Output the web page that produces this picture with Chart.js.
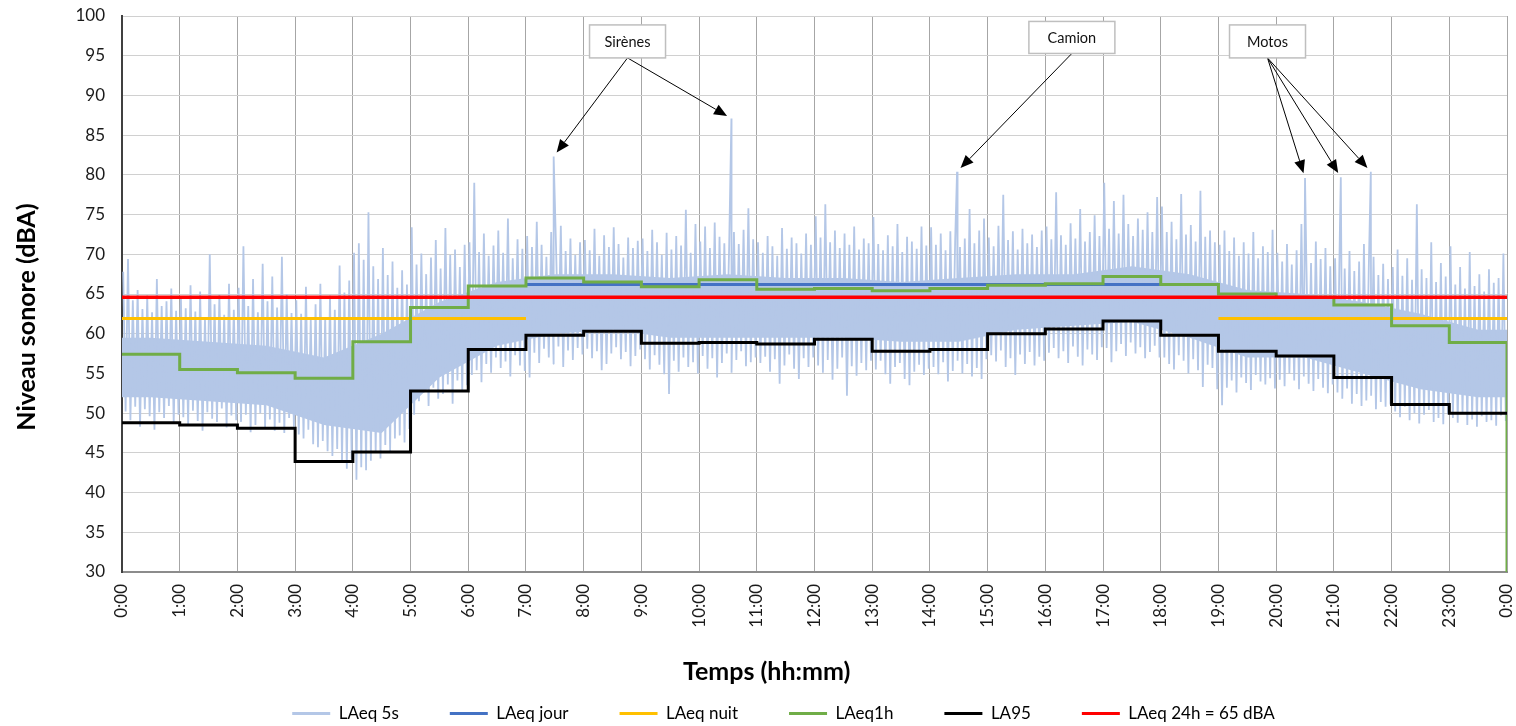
<!DOCTYPE html>
<html lang="fr">
<head>
<meta charset="utf-8">
<title>Niveau sonore sur 24h</title>
<script src="https://cdn.jsdelivr.net/npm/chart.js@4.4.1/dist/chart.umd.min.js"></script>
<style>
    html, body { margin: 0; padding: 0; background: #fff; }
    canvas { display: block; }
</style>
</head>
<body>
<canvas id="noiseChart" width="1516" height="726"></canvas>
<script>
// x axis tick labels, one per hour
const hourLabels = ['0:00', '1:00', '2:00', '3:00', '4:00', '5:00', '6:00', '7:00', '8:00', '9:00', '10:00', '11:00',
    '12:00', '13:00', '14:00', '15:00', '16:00', '17:00', '18:00', '19:00', '20:00', '21:00', '22:00', '23:00', '0:00'];

// LAeq 5s : highest and lowest reading in each 5 minute slot (one row per hour)
const peak5s = [
    67.8, 69.4, 64.2, 65.5, 63.1, 64.8, 62.7, 66.9, 63.5, 64.1, 65.7, 62.9,
    64.5, 63.2, 66.1, 62.8, 65.3, 61.9, 70.0, 63.7, 64.9, 62.4, 66.3, 63.0,
    65.8, 71.0, 63.5, 66.9, 62.7, 68.8, 64.1, 67.2, 63.3, 69.7, 65.0, 62.6,
    64.2, 62.5, 65.9, 61.8, 63.7, 66.3, 62.1, 64.8, 63.0, 68.6, 65.2, 66.7,
    70.2, 71.4, 69.3, 75.3, 68.5, 66.9, 70.8, 67.4, 69.1, 65.8, 68.0, 66.2,
    73.4, 68.7, 70.1, 67.5, 69.6, 71.8, 68.2, 73.3, 69.9, 70.6, 68.4, 71.2,
    71.5, 79.0, 70.3, 72.6, 69.8, 71.1, 73.0, 70.2, 74.5, 69.5, 71.9, 70.7,
    72.3, 70.9, 74.1, 71.2, 69.7, 72.8, 71.0, 73.6, 70.4, 72.0, 69.9, 71.5,
    71.8, 70.5, 73.2, 69.8, 72.4, 70.9, 73.4, 71.3, 69.6, 72.1, 70.8, 71.7,
    72.0, 70.4, 73.1, 71.5, 69.9, 72.7, 70.6, 72.3, 71.1, 75.6, 70.2, 73.8,
    71.6, 73.5, 70.8, 74.0, 72.2, 71.4, 70.9, 72.8, 71.3, 73.1, 75.8, 71.9,
    71.5, 70.2, 72.3, 71.0, 69.8, 73.3, 70.7, 72.1, 71.4, 70.1, 72.6, 71.2,
    74.8, 72.1, 76.3, 71.5, 73.0, 70.8, 72.6, 71.2, 73.5, 70.6, 72.0, 71.4,
    74.7, 71.3, 70.5, 72.4, 71.0, 73.8, 70.3, 72.2, 71.6, 70.7, 73.5, 71.1,
    73.4, 71.2, 72.6, 70.5, 72.9, 71.8, 70.9, 72.0, 75.7, 71.4, 73.0, 74.5,
    72.1, 71.0, 73.6, 77.5, 71.8, 72.9, 70.6, 73.2, 71.4, 72.5, 70.9, 73.0,
    73.5, 71.9, 77.8, 72.4, 71.2, 73.9, 72.0, 75.7, 71.6, 72.8, 74.9, 72.3,
    79.0, 73.2, 76.7, 72.6, 77.5, 73.8, 72.3, 74.5, 73.1, 75.3, 72.8, 77.2,
    76.0, 72.8, 74.1, 71.9, 77.6, 72.5, 73.7, 71.6, 78.0, 72.2, 73.0, 71.5,
    71.2, 73.0, 70.4, 72.1, 69.8, 71.5, 70.1, 72.8, 69.5, 71.0, 70.3, 73.1,
    70.2, 69.1, 71.3, 68.7, 70.5, 73.8, 70.0, 68.9, 71.6, 69.4, 70.8, 68.5,
    69.5, 73.1, 68.2, 70.4, 67.9, 69.1, 71.3, 68.0, 69.7, 67.4, 68.8, 66.9,
    68.4, 70.6, 67.3, 69.5, 66.8, 76.3, 68.1, 67.0, 71.5, 66.5, 68.9, 67.2,
    71.0, 66.2, 68.4, 65.7, 70.3, 66.0, 67.5, 65.3, 68.1, 66.4, 67.0, 70.1
];
const dip5s = [
    50.2, 49.1, 50.8, 48.3, 50.5, 49.6, 47.9, 50.1, 49.4, 50.9, 48.7, 49.8,
    49.5, 48.6, 50.3, 49.0, 47.8, 50.1, 49.3, 48.9, 50.6, 48.2, 49.7, 49.1,
    48.9, 49.8, 47.6, 48.5, 50.0, 48.1, 49.2, 47.8, 48.8, 47.5, 49.4, 48.3,
    47.3, 46.8, 47.9, 46.1, 45.7, 46.5, 45.2, 44.6, 45.5, 43.8, 43.0, 44.2,
    41.6, 43.2, 42.8, 44.0, 45.1, 44.3, 46.0, 45.2, 46.8, 47.2, 46.3, 48.0,
    49.8, 51.5, 52.6, 50.9, 53.2, 51.8, 52.4, 53.6, 51.2, 54.1, 52.8, 53.5,
    54.8, 55.4, 53.9, 56.2, 55.1, 57.0, 55.7, 56.5, 54.6, 57.3, 56.0, 55.3,
    54.5, 57.6, 56.3, 58.1, 57.0, 56.2, 58.4, 55.8, 57.9, 56.7, 58.2, 57.4,
    58.1, 56.9, 57.8, 55.4, 56.2, 57.5, 58.3, 56.8, 57.7, 55.9, 57.2, 58.0,
    56.8, 55.5, 57.3, 56.1, 54.9, 52.4, 56.6, 55.2, 57.0, 55.8, 56.4, 55.0,
    57.2, 55.6, 56.9, 54.5, 56.3, 57.5, 55.1, 56.7, 57.8, 55.9, 56.4, 57.0,
    56.3, 57.1, 55.2, 56.8, 53.7, 56.0, 57.4, 55.6, 54.3, 56.9, 55.8, 57.0,
    56.0, 55.1, 56.7, 54.2, 55.6, 57.0, 52.2, 55.9, 54.7, 56.3, 55.4, 56.6,
    55.5, 56.6, 54.9, 53.7, 55.8, 56.3, 54.3, 53.5, 55.2, 56.1, 54.8, 55.6,
    55.8, 54.9, 56.4, 54.0, 55.3, 56.6, 55.0, 56.2, 54.6, 55.7, 54.3, 56.8,
    57.3, 56.5, 57.9, 55.8, 56.9, 54.8, 57.4, 56.2, 57.7, 56.0, 57.1, 56.6,
    57.6, 58.2, 56.9, 57.8, 56.3, 58.4, 57.1, 56.0, 58.0, 57.4, 56.7, 58.3,
    58.2, 56.4, 57.8, 58.7, 57.2, 58.9, 57.5, 58.3, 56.9, 57.7, 58.5, 57.0,
    57.0, 56.2, 55.5, 57.3, 56.6, 55.0, 56.8, 55.4, 53.3, 56.1, 55.7, 53.0,
    51.0, 53.2, 54.1, 52.6, 54.5, 53.8, 52.9, 54.8, 54.0, 53.6, 54.4, 53.1,
    54.2, 53.4, 55.0, 54.1, 53.0, 54.6, 53.7, 52.8, 54.3, 53.2, 52.5, 53.6,
    52.6, 51.8, 53.1, 51.2, 52.4, 50.9, 51.6, 52.2, 50.5, 51.4, 50.8, 51.1,
    50.2, 49.5, 50.8, 49.1, 50.0, 48.7, 49.8, 50.4, 48.9, 49.4, 48.6, 49.9,
    49.4, 48.8, 49.9, 48.5, 49.2, 48.3, 49.6, 48.9, 49.1, 48.4, 49.7, 49.0
];

// dense part of the LAeq 5s cloud, per hour (top and bottom edge)
const coreTop = [59.5, 59.0, 58.5, 57.0, 60.0, 64.0, 66.5, 67.5, 67.5, 67.0, 67.5, 67.0,
    67.0, 66.5, 67.0, 67.5, 67.5, 68.5, 67.5, 65.5, 65.0, 64.0, 62.5, 60.5];
const coreBottom = [52.0, 51.5, 51.0, 48.5, 47.5, 54.5, 58.5, 60.0, 60.5, 59.5, 59.5, 59.5,
    59.5, 59.0, 59.0, 60.5, 61.0, 61.5, 59.5, 57.0, 57.0, 55.0, 53.0, 52.0];

// single loud events (hour of day, dBA): sirens, truck, motorbikes
const eventHours = [7.48, 10.56, 14.47, 20.50, 21.12, 21.64];
const eventLevels = [82.3, 87.1, 80.4, 79.6, 79.7, 80.4];

// hourly values
const laeq1h = [57.4, 55.5, 55.1, 54.4, 59.0, 63.3, 66.0, 67.0, 66.5, 65.9, 66.8, 65.6,
    65.7, 65.4, 65.7, 66.1, 66.3, 67.2, 66.2, 65.0, 64.6, 63.6, 61.0, 58.9];
const la95 = [48.8, 48.5, 48.1, 43.9, 45.1, 52.8, 58.0, 59.8, 60.3, 58.8, 58.9, 58.7,
    59.3, 57.8, 58.0, 60.0, 60.6, 61.6, 59.8, 57.8, 57.2, 54.5, 51.1, 50.0];

// period levels
const jourPeriod = [7, 18];
const laeqJour = 66.2;
const nuitPeriods = [[0, 7], [19, 24]];
const laeqNuit = 61.9;
const laeq24h = 64.6;

const callouts = [
    { text: 'Sirènes', hour: 8.76, level: 96.8, w: 76, h: 33, events: [0, 1] },
    { text: 'Camion', hour: 16.46, level: 97.3, w: 86, h: 32, events: [2] },
    { text: 'Motos', hour: 19.85, level: 96.8, w: 76, h: 33, events: [3, 4, 5] }
];

const cloudColor = '#b4c7e7';

function build5s() {
    const pts = [];
    for (let i = 0; i < peak5s.length; i++) {
        const h = Math.floor(i / 12), k = i % 12;
        pts.push({ x: h + (k + 0.25) / 12, y: peak5s[i] });
        pts.push({ x: h + (k + 0.75) / 12, y: dip5s[i] });
    }
    eventHours.forEach((t, i) => pts.push({ x: t, y: eventLevels[i] }));
    return pts.sort((a, b) => a.x - b.x);
}

function hourMidpoints(vals) {
    const pts = [{ x: 0, y: vals[0] }];
    vals.forEach((v, i) => pts.push({ x: i + 0.5, y: v }));
    pts.push({ x: vals.length, y: vals[vals.length - 1] });
    return pts;
}

function hourSteps(vals) {
    const pts = vals.map((v, i) => ({ x: i, y: v }));
    pts.push({ x: vals.length, y: vals[vals.length - 1] });
    return pts;
}

function periodLine(periods, level) {
    const pts = [];
    periods.forEach((p, i) => {
        if (i > 0) pts.push({ x: (periods[i - 1][1] + p[0]) / 2, y: null });
        pts.push({ x: p[0], y: level }, { x: p[1], y: level });
    });
    return pts;
}

// text boxes with arrows, and the two axis titles
const calloutPlugin = {
    id: 'callouts',
    afterDatasetsDraw(chart) {
        const { ctx, scales: { x, y } } = chart;
        ctx.save();
        callouts.forEach(c => {
            const cx = x.getPixelForValue(c.hour), cy = y.getPixelForValue(c.level);
            const ox = cx, oy = cy + c.h / 2;
            ctx.strokeStyle = '#000';
            ctx.fillStyle = '#000';
            ctx.lineWidth = 1;
            c.events.forEach(i => {
                let tx = x.getPixelForValue(eventHours[i]), ty = y.getPixelForValue(eventLevels[i]);
                const dx = tx - ox, dy = ty - oy, len = Math.hypot(dx, dy);
                const ux = dx / len, uy = dy / len;
                tx -= ux * 5; ty -= uy * 5;
                const bx = tx - ux * 13, by = ty - uy * 13;
                ctx.beginPath();
                ctx.moveTo(ox, oy);
                ctx.lineTo(bx, by);
                ctx.stroke();
                ctx.beginPath();
                ctx.moveTo(tx, ty);
                ctx.lineTo(bx - uy * 5.5, by + ux * 5.5);
                ctx.lineTo(bx + uy * 5.5, by - ux * 5.5);
                ctx.closePath();
                ctx.fill();
            });
            ctx.fillStyle = '#fff';
            ctx.fillRect(cx - c.w / 2, cy - c.h / 2, c.w, c.h);
            ctx.strokeStyle = '#bfbfbf';
            ctx.lineWidth = 1.5;
            ctx.strokeRect(cx - c.w / 2, cy - c.h / 2, c.w, c.h);
            ctx.fillStyle = '#111';
            ctx.font = '14.5px Lato';
            ctx.textAlign = 'center';
            ctx.textBaseline = 'middle';
            ctx.fillText(c.text, cx, cy + 1);
        });
        ctx.restore();
    },
    afterDraw(chart) {
        const { ctx, scales: { x, y } } = chart;
        ctx.save();
        ctx.fillStyle = '#000';
        ctx.font = 'bold 25px Lato';
        ctx.textAlign = 'center';
        ctx.textBaseline = 'middle';
        ctx.fillText('Temps (hh:mm)', x.getPixelForValue(11.17), 672);
        ctx.translate(27, y.getPixelForValue(62.1));
        ctx.rotate(-Math.PI / 2);
        ctx.fillText('Niveau sonore (dBA)', 0, 0);
        ctx.restore();
    }
};

function drawChart() {
    const tickFont = { family: 'Lato', size: 17 };
    const ctx = document.getElementById('noiseChart').getContext('2d');
    new Chart(ctx, {
        type: 'line',
        data: {
            datasets: [{
                label: 'LAeq 5s',
                data: build5s(),
                borderColor: cloudColor,
                borderWidth: 1.8,
                borderJoinStyle: 'bevel',
                order: 6
            }, {
                label: 'LAeq jour',
                data: periodLine([jourPeriod], laeqJour),
                borderColor: '#4472c4',
                borderWidth: 3,
                order: 5
            }, {
                label: 'LAeq nuit',
                data: periodLine(nuitPeriods, laeqNuit),
                borderColor: '#ffc000',
                borderWidth: 3,
                order: 4
            }, {
                label: 'LAeq1h',
                data: hourSteps(laeq1h).concat([{ x: 24, y: 30 }]),
                borderColor: '#70ad47',
                borderWidth: 3,
                stepped: true,
                order: 3
            }, {
                label: 'LA95',
                data: hourSteps(la95),
                borderColor: '#000000',
                borderWidth: 3,
                stepped: true,
                order: 2
            }, {
                label: 'LAeq 24h = 65 dBA',
                data: [{ x: 0, y: laeq24h }, { x: 24, y: laeq24h }],
                borderColor: '#ff0000',
                borderWidth: 3.5,
                order: 1
            }, {
                // dense core of the 5s cloud, filled down to the next dataset
                label: 'core top',
                data: hourMidpoints(coreTop),
                borderWidth: 0,
                backgroundColor: cloudColor,
                fill: '+1',
                order: 8
            }, {
                label: 'core bottom',
                data: hourMidpoints(coreBottom),
                borderWidth: 0,
                order: 7
            }]
        },
        options: {
            responsive: false,
            animation: false,
            events: [],
            layout: { padding: { left: 60, right: 9, top: 16, bottom: -6 } },
            elements: { point: { radius: 0 }, line: { tension: 0, fill: false } },
            plugins: {
                tooltip: { enabled: false },
                legend: {
                    position: 'bottom',
                    labels: {
                        font: tickFont,
                        color: '#1a1a1a',
                        boxWidth: 38,
                        boxHeight: 3,
                        padding: 51,
                        generateLabels(chart) {
                            return chart.data.datasets.slice(0, 6).map((ds, i) => ({
                                text: ds.label,
                                fillStyle: ds.borderColor,
                                strokeStyle: ds.borderColor,
                                lineWidth: 0,
                                hidden: false,
                                datasetIndex: i
                            }));
                        }
                    }
                }
            },
            scales: {
                x: {
                    type: 'linear',
                    min: 0,
                    max: 24,
                    afterFit(scale) {
                        scale.height = 82;
                        scale.paddingLeft = 0;
                        scale.paddingRight = 0;
                    },
                    ticks: {
                        stepSize: 1,
                        autoSkip: false,
                        minRotation: 90,
                        maxRotation: 90,
                        padding: 12,
                        font: tickFont,
                        color: '#1a1a1a',
                        callback: v => hourLabels[v]
                    },
                    grid: { color: '#a6a6a6', drawTicks: false },
                    border: { color: '#8c8c8c', width: 2 }
                },
                y: {
                    min: 30,
                    max: 100,
                    afterFit(scale) {
                        scale.width = 62;
                        scale.paddingTop = 0;
                        scale.paddingBottom = 0;
                    },
                    ticks: { stepSize: 5, padding: 17, font: tickFont, color: '#1a1a1a' },
                    grid: { color: '#d0d0d0', drawTicks: false },
                    border: { color: '#404040', width: 2 }
                }
            }
        },
        plugins: [calloutPlugin]
    });
}

Promise.all([document.fonts.load('17px Lato'), document.fonts.load('bold 25px Lato')])
    .then(drawChart, drawChart);
</script>
</body>
</html>
